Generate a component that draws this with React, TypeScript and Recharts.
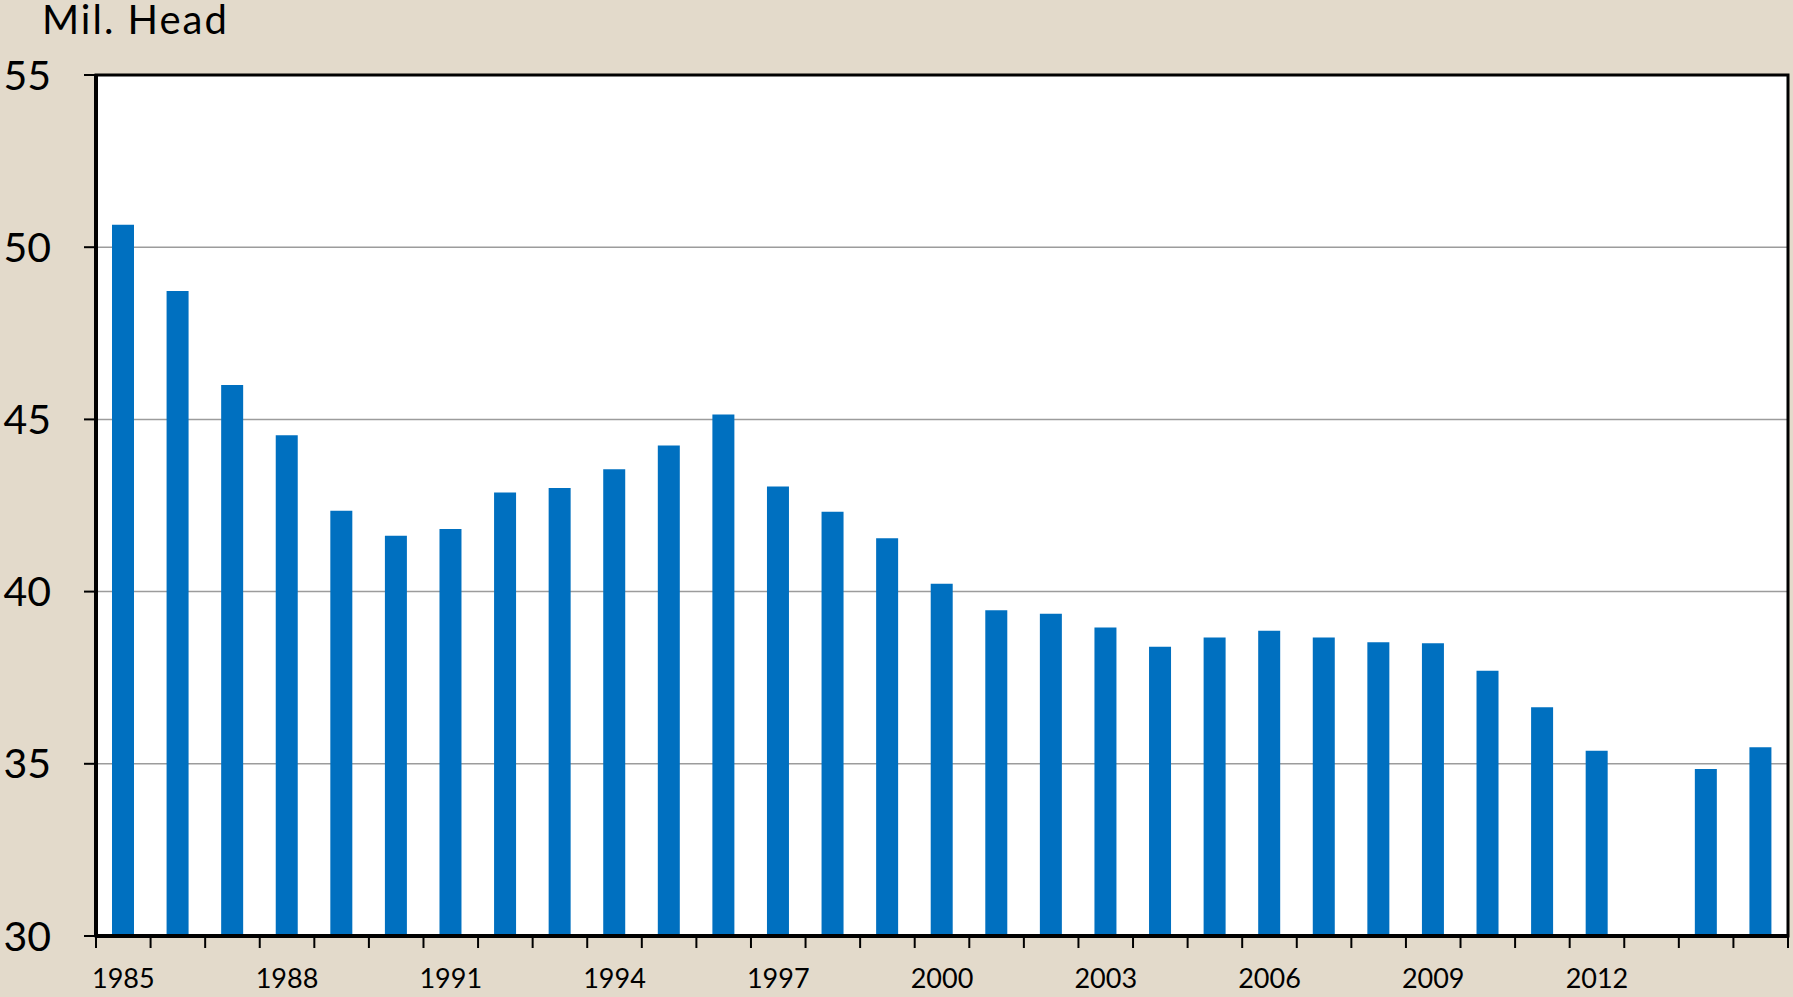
import React from "react";
import {
  BarChart,
  Bar,
  XAxis,
  YAxis,
  CartesianGrid,
  ReferenceArea,
} from "recharts";

const years = [
  "1985", "1986", "1987", "1988", "1989", "1990", "1991", "1992", "1993", "1994",
  "1995", "1996", "1997", "1998", "1999", "2000", "2001", "2002", "2003", "2004",
  "2005", "2006", "2007", "2008", "2009", "2010", "2011", "2012", "2013", "2014",
  "2015",
];

const milHead = [
  50.65, 48.73, 46.0, 44.54, 42.35, 41.62, 41.82, 42.88, 43.01, 43.55,
  44.24, 45.14, 43.05, 42.32, 41.55, 40.23, 39.46, 39.36, 38.96, 38.4,
  38.67, 38.86, 38.67, 38.53, 38.5, 37.7, 36.64, 35.38, 30.0, 34.85,
  35.48,
];

const yTicks = [30, 35, 40, 45, 50, 55];
const xTickLabels = [
  "1985", "1988", "1991", "1994", "1997", "2000", "2003", "2006", "2009", "2012",
];

const data = years.map((year, i) => ({ year, value: milHead[i] }));

const W = 1793;
const H = 997;
const Y_AXIS_W = 96;
const MARGIN_RIGHT = 5;
const PLOT_W = W - Y_AXIS_W - MARGIN_RIGHT;
const BAND = PLOT_W / years.length;
const FONT = "Lato, 'Open Sans', sans-serif";

function XTick(props: any) {
  const { x, y, payload, index } = props;
  const i = typeof index === "number" ? index : payload.index;
  const left = x - BAND / 2;
  const right = x + BAND / 2;
  const showLabel = xTickLabels.includes(String(payload.value));
  const isLast = i === years.length - 1;
  return (
    <g>
      <line x1={left} y1={y} x2={left} y2={y + 12} stroke="#000" strokeWidth={2} />
      {isLast && (
        <line x1={right} y1={y} x2={right} y2={y + 12} stroke="#000" strokeWidth={2} />
      )}
      {showLabel && (
        <text
          x={x}
          y={y + 52}
          textAnchor="middle"
          fontSize={27}
          fontFamily={FONT}
          fill="#000"
        >
          {payload.value}
        </text>
      )}
    </g>
  );
}

export default function App() {
  return (
    <div
      style={{
        position: "absolute",
        left: 0,
        top: 0,
        width: W,
        height: H,
        background: "#e3dacb",
        overflow: "hidden",
      }}
    >
      <div
        style={{
          position: "absolute",
          left: 42,
          top: 0,
          fontFamily: FONT,
          fontSize: 40,
          letterSpacing: 2,
          color: "#000",
          lineHeight: "38px",
        }}
      >
        Mil. Head
      </div>
      <BarChart
        width={W}
        height={H}
        data={data}
        margin={{ top: 75, right: MARGIN_RIGHT, bottom: 0, left: 0 }}
      >
        <CartesianGrid
          vertical={false}
          horizontal={true}
          stroke="#9c9c9c"
          strokeWidth={1.5}
          fill="#ffffff"
          fillOpacity={1}
        />
        <XAxis
          dataKey="year"
          interval={0}
          height={61}
          tickLine={false}
          tickSize={0}
          tickMargin={0}
          axisLine={{ stroke: "#000", strokeWidth: 4 }}
          tick={<XTick />}
        />
        <YAxis
          domain={[30, 55]}
          ticks={yTicks}
          width={Y_AXIS_W}
          tickSize={12}
          tickMargin={33}
          tickLine={{ stroke: "#000", strokeWidth: 2 }}
          axisLine={{ stroke: "#000", strokeWidth: 4 }}
          tick={{ fontSize: 41, fontFamily: FONT, fill: "#000" }}
          allowDataOverflow
        />
        <Bar
          dataKey="value"
          fill="#0070c0"
          barSize={22}
          isAnimationActive={false}
        />
        <ReferenceArea
          y1={30}
          y2={55}
          fill="none"
          fillOpacity={0}
          stroke="#000"
          strokeWidth={3}
          ifOverflow="visible"
        />
      </BarChart>
    </div>
  );
}
